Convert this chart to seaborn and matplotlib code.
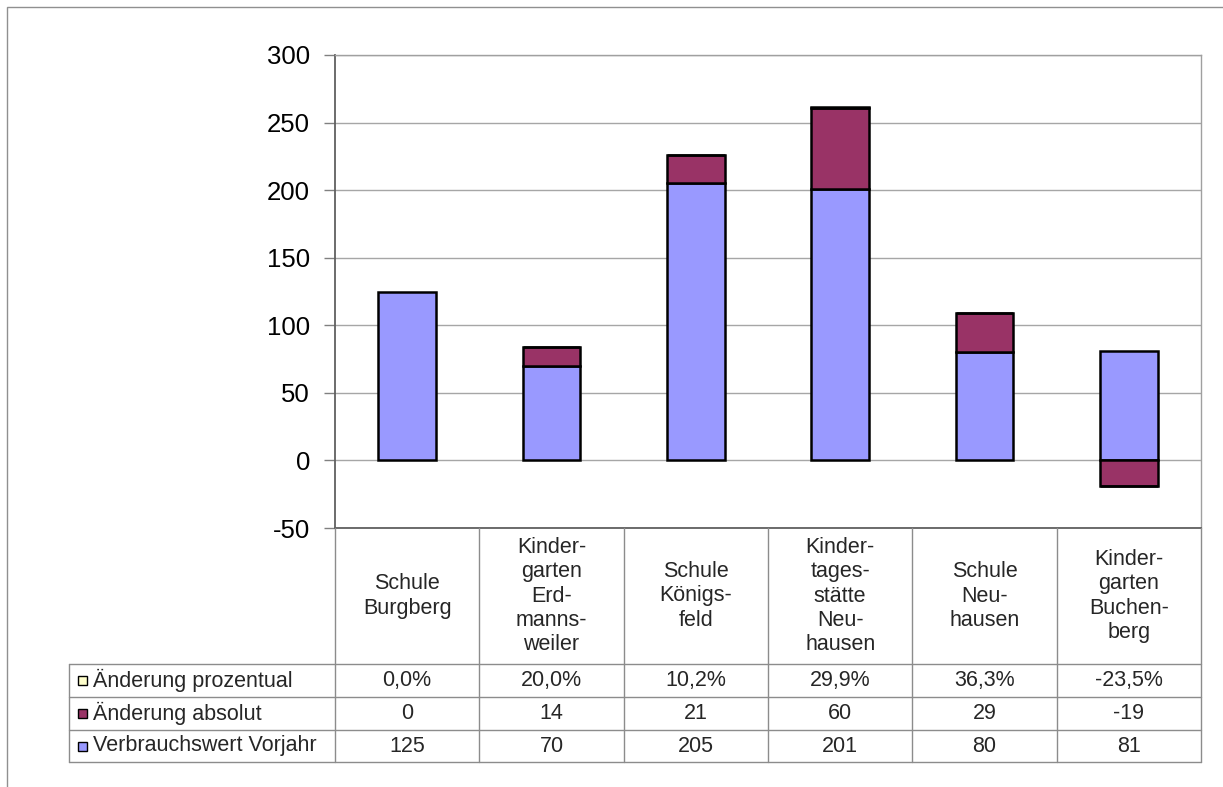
import numpy as np
import matplotlib
matplotlib.use("Agg")
import matplotlib.pyplot as plt
from matplotlib.patches import Rectangle
from matplotlib.lines import Line2D
import seaborn as sns

# data
categories = ["Schule\nBurgberg", "Kinder-\ngarten\nErd-\nmanns-\nweiler", "Schule\nKönigs-\nfeld",
              "Kinder-\ntages-\nstätte\nNeu-\nhausen", "Schule\nNeu-\nhausen", "Kinder-\ngarten\nBuchen-\nberg"]
vorjahr = [125, 70, 205, 201, 80, 81]
absolut = [0, 14, 21, 60, 29, -19]
prozentual = [0.0, 0.200, 0.102, 0.299, 0.363, -0.235]
series_names = ["Änderung prozentual", "Änderung absolut", "Verbrauchswert Vorjahr"]
series_colors = ["#FFFFCC", "#993366", "#9999FF"]
yticks = [-50, 0, 50, 100, 150, 200, 250, 300]

sns.set_theme(style="white")
plt.rcParams['font.family'] = ['Liberation Sans', 'DejaVu Sans']
plt.rcParams['axes.unicode_minus'] = False

W, H = 1223, 787
fig = plt.figure(figsize=(W / 100, H / 100), dpi=100)
fx = lambda x: x / W
fy = lambda y: 1 - y / H

# plot area in pixels
L, R, T, B = 335, 1201, 55, 528
ax = fig.add_axes([fx(L), fy(B), fx(R - L), (B - T) / H])

# stacked bars, negatives stacked downwards (Excel style)
pos = np.zeros(len(categories))
neg = np.zeros(len(categories))
for vals, col in [(vorjahr, series_colors[2]), (absolut, series_colors[1]), (prozentual, series_colors[0])]:
    v = np.array(vals, float)
    bot = np.where(v >= 0, pos, neg)
    keep = v != 0
    sns.barplot(x=[c for c, k in zip(categories, keep) if k], y=v[keep], order=categories,
                bottom=bot[keep], color=col, edgecolor="black", linewidth=1.8,
                width=0.4, errorbar=None, saturation=1, ax=ax)
    pos = pos + np.clip(v, 0, None)
    neg = neg + np.clip(v, None, 0)

ax.set_ylim(-50, 300)
ax.set_xlim(-0.5, len(categories) - 0.5)
ax.set_yticks(yticks)
ax.set_yticklabels([str(t) for t in yticks])
ax.set_xlabel("")
ax.set_ylabel("")
ax.tick_params(axis="x", length=0, labelbottom=False)
ax.tick_params(axis="y", left=True, length=8, width=1, color="#808080", pad=10, labelsize=18.5, labelcolor="black")
ax.yaxis.grid(True, color="#a6a6a6", lw=1)
ax.set_axisbelow(True)
for s in ["top", "right"]:
    ax.spines[s].set_color("#a0a0a0")
    ax.spines[s].set_linewidth(1)
for s in ["left", "bottom"]:
    ax.spines[s].set_color("#606060")
    ax.spines[s].set_linewidth(1.3)

# data table below the plot
line_c = "#8c8c8c"
fs = 15.5
cw = (R - L) / len(categories)
row_y = [664, 697, 730, 762]
for y in row_y:
    fig.add_artist(Line2D([fx(69), fx(R)], [fy(y), fy(y)], color=line_c, lw=1))
for i in range(len(categories) + 1):
    x = L + i * cw
    fig.add_artist(Line2D([fx(x), fx(x)], [fy(B), fy(762)], color=line_c, lw=1))
fig.add_artist(Line2D([fx(69), fx(69)], [fy(664), fy(762)], color=line_c, lw=1))

for i, c in enumerate(categories):
    fig.text(fx(L + (i + 0.5) * cw), fy((B + 664) / 2), c, ha="center", va="center",
             fontsize=fs, linespacing=1.2)

rows = [
    [f"{p * 100:.1f}%".replace(".", ",") for p in prozentual],
    [str(a) for a in absolut],
    [str(v) for v in vorjahr],
]
for r, (name, col, texts) in enumerate(zip(series_names, series_colors, rows)):
    yc = (row_y[r] + row_y[r + 1]) / 2
    fig.add_artist(Rectangle((fx(78), fy(yc + 4.5)), 9 / W, 9 / H, facecolor=col,
                             edgecolor="black", lw=1, transform=fig.transFigure))
    fig.text(fx(93), fy(yc), name, ha="left", va="center", fontsize=fs)
    for i, t in enumerate(texts):
        fig.text(fx(L + (i + 0.5) * cw), fy(yc), t, ha="center", va="center", fontsize=fs)

# outer chart border
fig.add_artist(Rectangle((fx(7), -0.1), 1.1, fy(7) + 0.1, facecolor="none",
                         edgecolor="#909090", lw=1, transform=fig.transFigure))

fig.savefig("out.png", dpi=100)
